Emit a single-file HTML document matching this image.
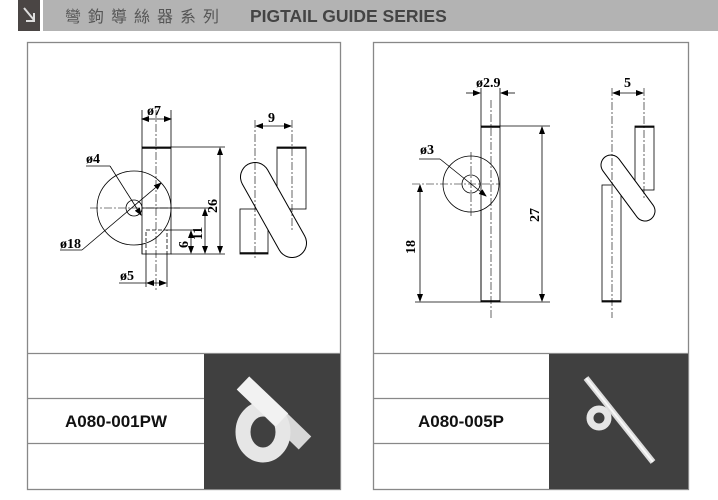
<!DOCTYPE html>
<html><head><meta charset="utf-8"><style>
body{margin:0;width:718px;height:500px;background:#fff;overflow:hidden;font-family:"Liberation Sans",sans-serif}
</style></head><body>
<svg width="718" height="500" xmlns="http://www.w3.org/2000/svg" style="position:absolute;left:0;top:0">
<defs>
<marker id="a" markerWidth="8" markerHeight="6" refX="7" refY="3" orient="auto-start-reverse" markerUnits="userSpaceOnUse"><path d="M0,0 L8,3 L0,6 Z" fill="#000"/></marker>
</defs>
<!-- header -->
<rect x="18" y="0" width="22" height="31" fill="#4a4544"/>
<path d="M24,8 L34,20 M34,13 L34,21 L26,21" stroke="#ddd" stroke-width="2" fill="none"/>
<rect x="43" y="0" width="675" height="31" fill="#b3b3b3"/>
<text x="65" y="22" font-family="'Noto Sans CJK TC',sans-serif" font-size="16" fill="#555" letter-spacing="7">彎鉤導絲器系列</text>
<text x="250" y="22" font-size="17.5" font-weight="bold" fill="#444">PIGTAIL GUIDE SERIES</text>
<!-- panels -->
<g fill="none" stroke="#888" stroke-width="1.3">
<rect x="27.5" y="42.5" width="313" height="447"/>
<rect x="373.5" y="42.5" width="315" height="447"/>
<line x1="27" y1="353.5" x2="341" y2="353.5"/><line x1="27" y1="398.5" x2="205" y2="398.5"/><line x1="27" y1="443.5" x2="205" y2="443.5"/>
<line x1="373" y1="353.5" x2="689" y2="353.5"/><line x1="373" y1="398.5" x2="549" y2="398.5"/><line x1="373" y1="443.5" x2="549" y2="443.5"/>
</g>
<rect x="204" y="354" width="136" height="135" fill="#404040"/>
<rect x="549" y="354" width="139" height="135" fill="#404040"/>
<text x="116" y="427" text-anchor="middle" font-size="17" font-weight="bold" fill="#111">A080-001PW</text>
<text x="461" y="427" text-anchor="middle" font-size="17" font-weight="bold" fill="#111">A080-005P</text>
<!-- photos -->
<line x1="243" y1="383" x2="305" y2="443" stroke="#d8d8d8" stroke-width="18"/>
<ellipse cx="263" cy="432" rx="20" ry="23" fill="none" stroke="#e6e6e6" stroke-width="15"/>
<line x1="243" y1="383" x2="282" y2="420" stroke="#f2f2f2" stroke-width="18"/>
<circle cx="599" cy="418" r="9" fill="none" stroke="#e6e6e6" stroke-width="7"/>
<line x1="586" y1="378" x2="653" y2="462" stroke="#dedede" stroke-width="6"/>
<line x1="586" y1="378" x2="653" y2="462" stroke="#f8f8f8" stroke-width="2"/>
<!-- LEFT DRAWING -->
<g fill="none" stroke="#000" stroke-width="0.8" font-family="'Liberation Serif',serif" font-weight="bold">
<rect x="142" y="147" width="29" height="107" fill="#fff"/>
<line x1="142" y1="148" x2="171" y2="148" stroke-width="1.5"/>
<circle cx="134" cy="208" r="37" fill="#fff"/>
<circle cx="134" cy="208" r="8"/>
<line x1="142" y1="171" x2="142" y2="254"/>
<line x1="142" y1="208" x2="171" y2="208"/>
<path d="M146,254 V230 H167 V254" stroke-dasharray="4,2"/>
<line x1="156" y1="110" x2="156" y2="290" stroke-dasharray="8,2,2,2" stroke-width="0.6"/>
<line x1="90" y1="208" x2="180" y2="208" stroke-dasharray="8,2,2,2" stroke-width="0.6"/>
<line x1="142" y1="110" x2="142" y2="147"/><line x1="171" y1="110" x2="171" y2="147"/>
<line x1="142" y1="119" x2="171" y2="119" marker-start="url(#a)" marker-end="url(#a)"/>
<text x="147" y="115" font-size="14" fill="#000" stroke="none">ø7</text>
<line x1="171" y1="147" x2="225" y2="147"/><line x1="171" y1="254" x2="225" y2="254"/>
<line x1="220" y1="148" x2="220" y2="253" marker-start="url(#a)" marker-end="url(#a)"/>
<text x="0" y="0" font-size="14" fill="#000" stroke="none" transform="translate(217,213) rotate(-90)">26</text>
<line x1="171" y1="208" x2="210" y2="208"/>
<line x1="205" y1="209" x2="205" y2="253" marker-start="url(#a)" marker-end="url(#a)"/>
<text x="0" y="0" font-size="14" fill="#000" stroke="none" transform="translate(202,240) rotate(-90)">11</text>
<line x1="167" y1="230" x2="195" y2="230"/>
<line x1="191" y1="231" x2="191" y2="253" marker-start="url(#a)" marker-end="url(#a)"/>
<text x="0" y="0" font-size="14" fill="#000" stroke="none" transform="translate(188,248) rotate(-90)">6</text>
<line x1="146" y1="254" x2="146" y2="287"/><line x1="167" y1="254" x2="167" y2="287"/>
<line x1="147" y1="283" x2="166" y2="283" marker-start="url(#a)" marker-end="url(#a)"/>
<text x="120" y="280" font-size="14" fill="#000" stroke="none">ø5</text>
<line x1="119" y1="283" x2="146" y2="283"/>
<line x1="86" y1="166" x2="110" y2="166"/>
<line x1="110" y1="166" x2="141" y2="215" marker-end="url(#a)"/>
<text x="86" y="163" font-size="14" fill="#000" stroke="none">ø4</text>
<line x1="82" y1="250" x2="60" y2="250"/>
<line x1="82" y1="250" x2="161" y2="183" marker-end="url(#a)"/>
<text x="60" y="248" font-size="14" fill="#000" stroke="none">ø18</text>
<!-- side view -->
<rect x="277" y="147" width="29" height="62" fill="#fff"/>
<line x1="277" y1="148" x2="306" y2="148" stroke-width="1.5"/>
<rect x="240" y="209" width="28" height="45" fill="#fff"/>
<line x1="240" y1="253" x2="268" y2="253" stroke-width="1.5"/>
<line x1="255" y1="177" x2="292" y2="243" stroke="#000" stroke-width="30" stroke-linecap="round"/>
<line x1="255" y1="177" x2="292" y2="243" stroke="#fff" stroke-width="28" stroke-linecap="round"/>
<line x1="255" y1="120" x2="255" y2="260" stroke-dasharray="8,2,2,2" stroke-width="0.6"/>
<line x1="292" y1="120" x2="292" y2="230" stroke-dasharray="8,2,2,2" stroke-width="0.6"/>
<line x1="256" y1="126" x2="291" y2="126" marker-start="url(#a)" marker-end="url(#a)"/>
<text x="268" y="122" font-size="14" fill="#000" stroke="none">9</text>
</g>
<!-- RIGHT DRAWING -->
<g fill="none" stroke="#000" stroke-width="0.8" font-family="'Liberation Serif',serif" font-weight="bold">
<rect x="481" y="126" width="19" height="176" fill="#fff"/>
<line x1="481" y1="127" x2="500" y2="127" stroke-width="1.5"/>
<line x1="481" y1="301" x2="500" y2="301" stroke-width="1.5"/>
<circle cx="471" cy="184" r="28" fill="#fff"/>
<circle cx="471" cy="184" r="9"/>
<line x1="481" y1="157" x2="481" y2="302"/>
<line x1="491" y1="100" x2="491" y2="318" stroke-dasharray="8,2,2,2" stroke-width="0.6"/>
<line x1="471" y1="152" x2="471" y2="216" stroke-dasharray="8,2,2,2" stroke-width="0.6"/>
<line x1="412" y1="184" x2="500" y2="184" stroke-dasharray="8,2,2,2" stroke-width="0.6"/>
<line x1="481" y1="88" x2="481" y2="126"/><line x1="500" y1="88" x2="500" y2="126"/>
<line x1="466" y1="93" x2="480" y2="93" marker-end="url(#a)"/>
<line x1="515" y1="93" x2="501" y2="93" marker-end="url(#a)"/>
<text x="476" y="87" font-size="14" fill="#000" stroke="none">ø2.9</text>
<line x1="500" y1="126" x2="550" y2="126"/><line x1="500" y1="302" x2="550" y2="302"/>
<line x1="542" y1="127" x2="542" y2="301" marker-start="url(#a)" marker-end="url(#a)"/>
<text x="0" y="0" font-size="14" fill="#000" stroke="none" transform="translate(539,222) rotate(-90)">27</text>
<line x1="415" y1="302" x2="481" y2="302"/>
<line x1="420" y1="185" x2="420" y2="301" marker-start="url(#a)" marker-end="url(#a)"/>
<text x="0" y="0" font-size="14" fill="#000" stroke="none" transform="translate(415,254) rotate(-90)">18</text>
<line x1="419" y1="159" x2="440" y2="159"/>
<line x1="440" y1="159" x2="486" y2="196" marker-end="url(#a)"/>
<text x="420" y="154" font-size="14" fill="#000" stroke="none">ø3</text>
<!-- side view -->
<rect x="635" y="126" width="19" height="64" fill="#fff"/>
<line x1="635" y1="127" x2="654" y2="127" stroke-width="1.5"/>
<rect x="602" y="185" width="19" height="117" fill="#fff"/>
<line x1="602" y1="301" x2="621" y2="301" stroke-width="1.5"/>
<line x1="611" y1="165" x2="645" y2="211" stroke="#000" stroke-width="21" stroke-linecap="round"/>
<line x1="611" y1="165" x2="645" y2="211" stroke="#fff" stroke-width="19" stroke-linecap="round"/>
<line x1="612" y1="88" x2="612" y2="318" stroke-dasharray="8,2,2,2" stroke-width="0.6"/>
<line x1="644" y1="88" x2="644" y2="200" stroke-dasharray="8,2,2,2" stroke-width="0.6"/>
<line x1="613" y1="93" x2="643" y2="93" marker-start="url(#a)" marker-end="url(#a)"/>
<text x="624" y="87" font-size="14" fill="#000" stroke="none">5</text>
</g>
</svg>
</body></html>
